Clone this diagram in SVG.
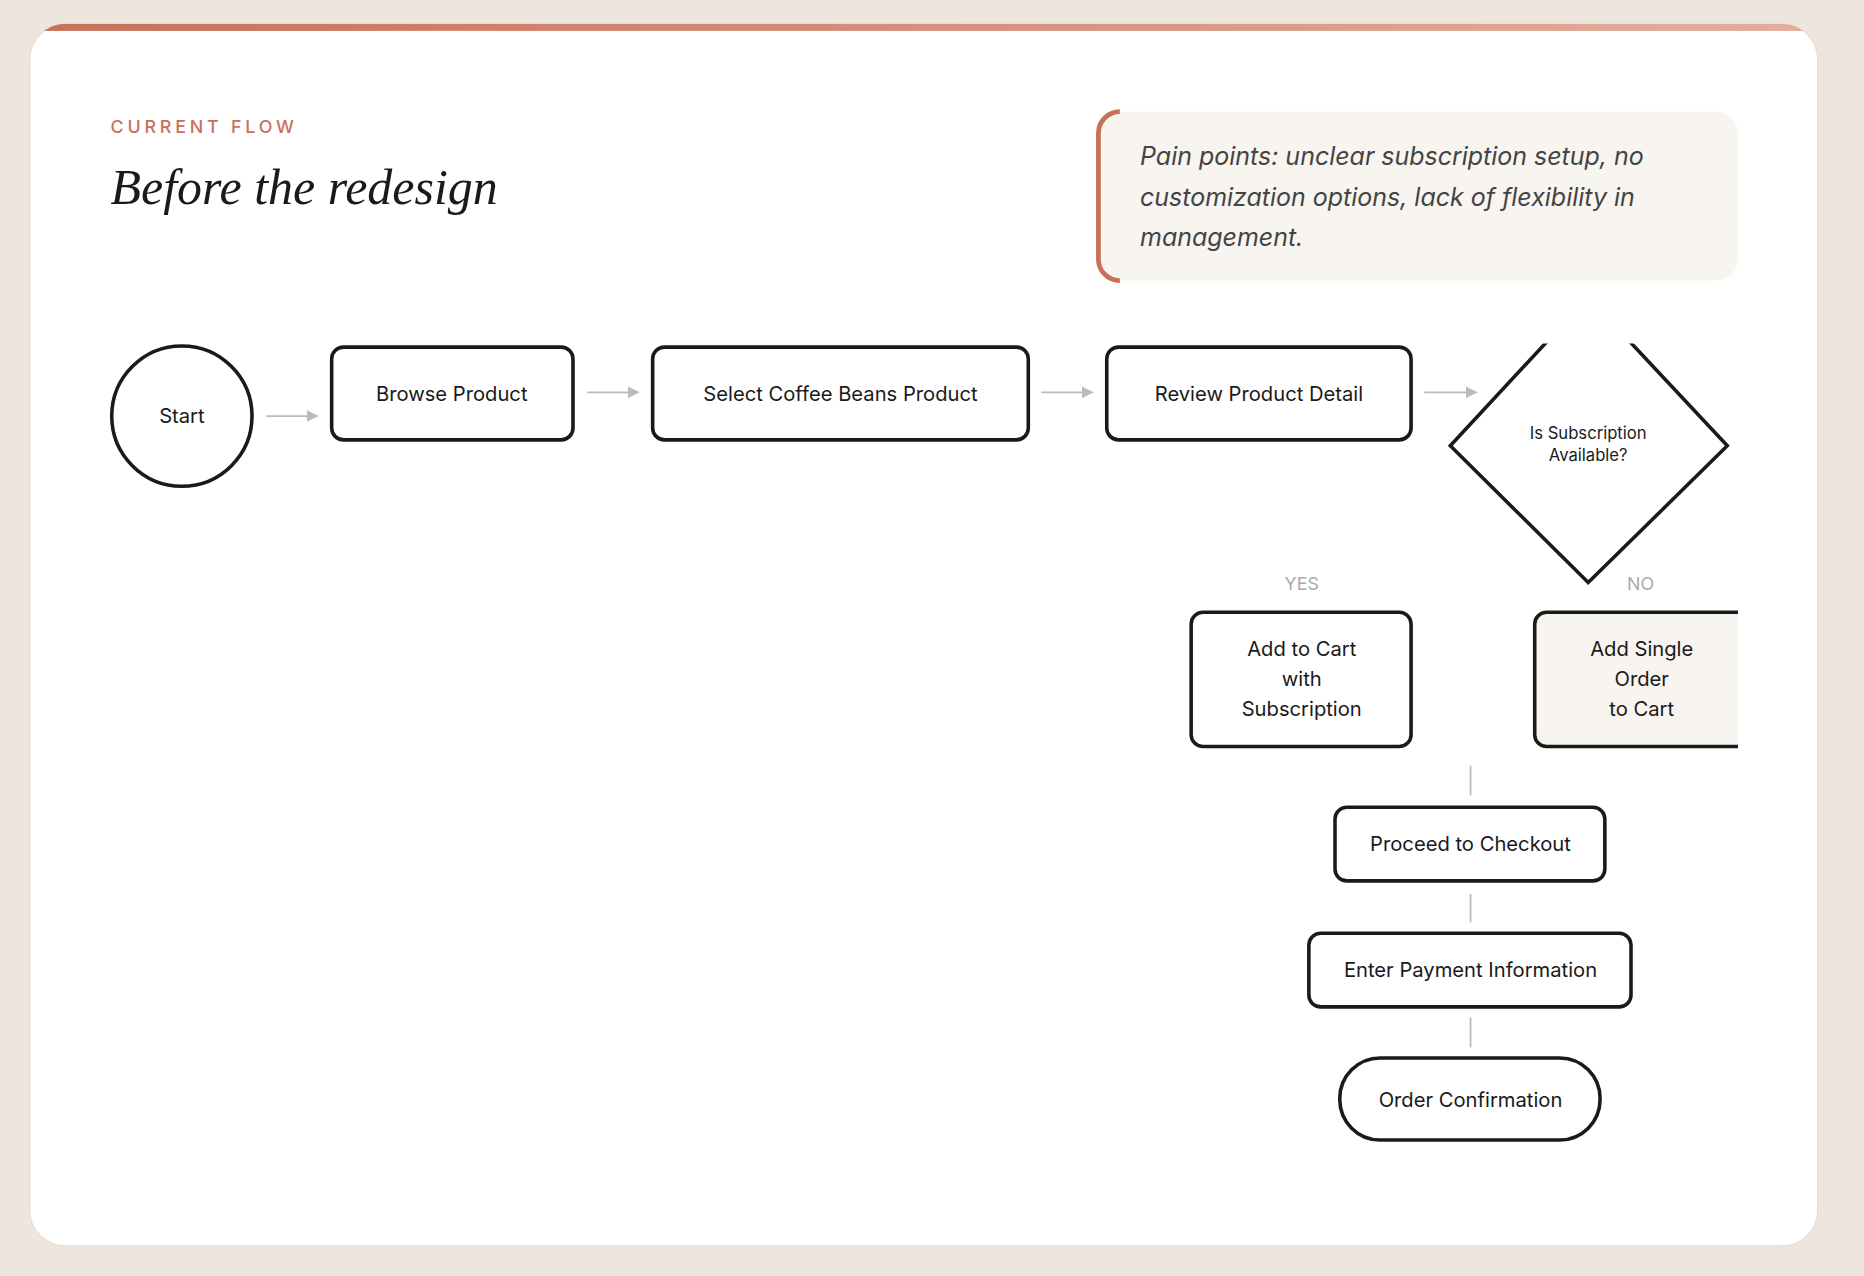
<svg xmlns="http://www.w3.org/2000/svg" width="1864" height="1276" viewBox="0 0 1864 1276">
<style>
.n{fill:#fff;stroke:#1a1a1a;stroke-width:3}
.t{font-family:Inter,"Open Sans",sans-serif;font-size:17px;fill:#1a1a1a;text-anchor:middle}
.s{font-family:Inter,"Open Sans",sans-serif;font-size:14px;fill:#1a1a1a;text-anchor:middle}
.l{font-family:Inter,"Open Sans",sans-serif;font-size:15px;fill:#aaa;text-anchor:middle}
.c{stroke:#bbb;stroke-width:1.5;fill:none}
</style>
<defs>
<marker id="a" viewBox="0 0 10 10" refX="9" refY="5" markerWidth="10" markerHeight="10" markerUnits="userSpaceOnUse" orient="auto"><path d="M0,0L10,5L0,10z" fill="#bbb"/></marker>
<linearGradient id="g" x1="0" x2="1"><stop offset="0" stop-color="#C8705A"/><stop offset="1" stop-color="#E2AE9E"/></linearGradient>
<clipPath id="card"><rect x="25" y="20" width="1504" height="1028" rx="30"/></clipPath>
<clipPath id="cr"><rect x="0" y="0" width="1462" height="1073"/></clipPath>
<clipPath id="dt"><rect x="0" y="289" width="1568" height="800"/></clipPath>
</defs>
<rect width="1864" height="1276" fill="#EEE6DD"/>
<g transform="scale(1.18878)">
<rect x="25" y="20" width="1504" height="1028" rx="30" fill="#fff" stroke="#e6ded5"/>
<rect x="25" y="20" width="1504" height="6" fill="url(#g)" clip-path="url(#card)"/>
<text x="93" y="112" font-family="Inter,'Open Sans',sans-serif" font-size="15" fill="#C8705A" letter-spacing="3.2" font-weight="500">CURRENT FLOW</text>
<text x="93" y="172" font-family="'Liberation Serif',serif" font-style="italic" font-size="42" fill="#1a1a1a">Before the redesign</text>
<g id="painbox">
<rect x="924" y="94" width="538" height="142" rx="18" fill="#F8F4F0"/>
<path d="M942,94 A18,18 0 0 0 924,112 V218 A18,18 0 0 0 942,236" fill="none" stroke="#C8705A" stroke-width="4" clip-path="url(#cr)"/>
<g font-family="Inter,'Open Sans',sans-serif" font-style="italic" font-size="21" fill="#444">
<text x="959" y="139">Pain points: unclear subscription setup, no</text>
<text x="959" y="173">customization options, lack of flexibility in</text>
<text x="959" y="207">management.</text>
</g>
</g>
<g id="connectors">
<line class="c" x1="224" y1="350" x2="267" y2="350" marker-end="url(#a)"/>
<line class="c" x1="494" y1="330" x2="537" y2="330" marker-end="url(#a)"/>
<line class="c" x1="876" y1="330" x2="919" y2="330" marker-end="url(#a)"/>
<line class="c" x1="1198" y1="330" x2="1242" y2="330" marker-end="url(#a)"/>
<line class="c" x1="1237" y1="644" x2="1237" y2="669"/>
<line class="c" x1="1237" y1="752" x2="1237" y2="776"/>
<line class="c" x1="1237" y1="856" x2="1237" y2="881"/>
<text class="l" x="1095" y="496">YES</text>
<text class="l" x="1380" y="496">NO</text>
</g>
<g id="start"><circle class="n" cx="153" cy="350" r="59"/><text class="t" x="153" y="356">Start</text></g>
<g id="browse"><rect class="n" x="279" y="292" width="203" height="78" rx="10"/><text class="t" x="380" y="337">Browse Product</text></g>
<g id="select"><rect class="n" x="549" y="292" width="316" height="78" rx="10"/><text class="t" x="707" y="337">Select Coffee Beans Product</text></g>
<g id="review"><rect class="n" x="931" y="292" width="256" height="78" rx="10"/><text class="t" x="1059" y="337">Review Product Detail</text></g>
<g id="decision"><polygon class="n" points="1336,250 1220,375 1336,490 1453,375" clip-path="url(#dt)"/>
<text class="s" x="1336" y="369">Is Subscription</text><text class="s" x="1336" y="388">Available?</text></g>
<g id="addsub"><rect class="n" x="1002" y="515" width="185" height="113" rx="10"/>
<text class="t" x="1095" y="552">Add to Cart</text><text class="t" x="1095" y="577">with</text><text class="t" x="1095" y="602">Subscription</text></g>
<g id="addsingle" clip-path="url(#cr)"><rect class="n" x="1291" y="515" width="190" height="113" rx="10" fill="#F8F4F0" style="fill:#F8F4F0"/>
<text class="t" x="1381" y="552">Add Single</text><text class="t" x="1381" y="577">Order</text><text class="t" x="1381" y="602">to Cart</text></g>
<g id="checkout"><rect class="n" x="1123" y="679" width="227" height="62" rx="10"/><text class="t" x="1237" y="716">Proceed to Checkout</text></g>
<g id="payment"><rect class="n" x="1101" y="785" width="271" height="62" rx="10"/><text class="t" x="1237" y="822">Enter Payment Information</text></g>
<g id="confirm"><rect class="n" x="1127" y="890" width="219" height="69" rx="34"/><text class="t" x="1237" y="931">Order Confirmation</text></g>
</g>
</svg>
